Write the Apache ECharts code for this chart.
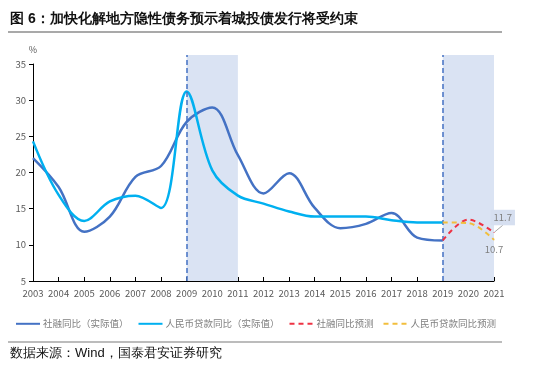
<!DOCTYPE html>
<html>
<head>
<meta charset="utf-8">
<script src="https://cdn.jsdelivr.net/npm/echarts@6/dist/echarts.min.js"></script>
<style>
  html, body { margin: 0; padding: 0; background: #fff; }
  #main { width: 550px; height: 377px; }
</style>
</head>
<body>
<div id="main"></div>
<script>
// 年份（横轴）
var years = [2003, 2004, 2005, 2006, 2007, 2008, 2009, 2010, 2011, 2012, 2013, 2014, 2015, 2016, 2017, 2018, 2019];
// 社融同比（实际值）
var sfActual = [22.0, 18.0, 11.8, 13.9, 19.4, 20.9, 27.0, 29.0, 22.4, 17.1, 19.9, 15.1, 12.3, 12.9, 14.4, 11.0, 10.6];
// 人民币贷款同比（实际值）
var loanActual = [24.3, 16.9, 13.3, 16.0, 16.8, 15.1, 31.2, 20.3, 16.8, 15.7, 14.6, 13.9, 13.9, 13.9, 13.4, 13.1, 13.1];
// 预测
var forecastYears = [2019, 2020, 2021];
var sfForecast = [10.6, 13.5, 11.7];
var loanForecast = [13.1, 13.0, 10.7];
// 阴影区间与虚线
var shadedRanges = [[2009, 2011], [2019, 2021]];
var dashedYears = [2009, 2019];

var SF_COLOR = '#4472C4';
var LOAN_COLOR = '#00B0F0';
var SF_FC_COLOR = '#EE3344';
var LOAN_FC_COLOR = '#F2BE3C';

function pairs(xs, ys) {
  return xs.map(function (x, i) { return [x, ys[i]]; });
}

function forecastData(ys, lastLabel) {
  return forecastYears.map(function (x, i) {
    if (i === forecastYears.length - 1) {
      return { value: [x, ys[i]], symbol: 'circle', symbolSize: 1, label: lastLabel };
    }
    return [x, ys[i]];
  });
}

var myChart = echarts.init(document.getElementById('main'));
myChart.setOption({
  animation: false,
  textStyle: { fontFamily: '"Noto Sans CJK SC", "Noto Sans", sans-serif' },
  graphic: [
    {
      type: 'text', left: 10, top: 12,
      style: { text: '图 6：加快化解地方隐性债务预示着城投债发行将受约束', fontSize: 14, fontWeight: 'bold', fill: '#111' }
    },
    { type: 'line', shape: { x1: 8, y1: 32, x2: 502, y2: 32 }, style: { stroke: '#8c8c8c', lineWidth: 1.5 } },
    { type: 'line', shape: { x1: 8, y1: 342, x2: 502, y2: 342 }, style: { stroke: '#a6a6a6', lineWidth: 1.5 } },
    {
      type: 'text', left: 10, top: 347,
      style: { text: '数据来源：Wind，国泰君安证券研究', fontSize: 13, fill: '#111' }
    }
  ],
  grid: [
    { left: 33, right: 56, top: 64, bottom: 96 },
    { left: 33, right: 56, top: 55, bottom: 96 }
  ],
  legend: {
    left: 15, top: 319, padding: 0,
    itemWidth: 24, itemHeight: 12, itemGap: 9,
    itemStyle: { color: 'rgba(0,0,0,0)', borderWidth: 0, opacity: 0 },
    textStyle: { color: '#7f7f7f', fontSize: 9.5, padding: [0, 0, 0, -2] },
    data: ['社融同比（实际值）', '人民币贷款同比（实际值）', '社融同比预测', '人民币贷款同比预测']
  },
  xAxis: [
    {
      type: 'value', gridIndex: 0, min: 2003, max: 2021, interval: 1,
      axisLine: { lineStyle: { color: '#000', width: 1 } },
      axisTick: { inside: true, length: 4, lineStyle: { color: '#000' } },
      axisLabel: { color: '#595959', fontSize: 9.5, margin: 8, formatter: function (v) { return String(v); } },
      splitLine: { show: false }
    },
    {
      type: 'value', gridIndex: 1, min: 2003, max: 2021, show: false,
      splitLine: { show: false }
    }
  ],
  yAxis: [
    {
      type: 'value', gridIndex: 0, min: 5, max: 35, interval: 5,
      name: '%', nameGap: 10,
      nameTextStyle: { color: '#595959', fontSize: 9, align: 'center' },
      axisLine: { show: true, lineStyle: { color: '#000', width: 1 } },
      axisTick: { show: true, length: 4, lineStyle: { color: '#000' } },
      axisLabel: { color: '#595959', fontSize: 9.5, margin: 7 },
      splitLine: { show: false }
    },
    {
      type: 'value', gridIndex: 1, min: 0, max: 1, show: false,
      splitLine: { show: false }
    }
  ],
  series: [
    {
      name: 'shade', type: 'line', xAxisIndex: 1, yAxisIndex: 1, z: 1,
      data: [], symbol: 'none', silent: true,
      markArea: {
        silent: true,
        itemStyle: { color: '#DAE3F3' },
        data: shadedRanges.map(function (r) {
          return [{ xAxis: r[0], yAxis: 0 }, { xAxis: r[1], yAxis: 1 }];
        })
      },
      markLine: {
        silent: true, symbol: 'none',
        label: { show: false },
        lineStyle: { color: SF_COLOR, width: 1.5, type: [5, 3] },
        data: dashedYears.map(function (y) { return { xAxis: y }; })
      }
    },
    {
      name: '社融同比（实际值）', type: 'line', z: 3,
      data: pairs(years, sfActual),
      smooth: 0.35, symbol: 'none',
      lineStyle: { color: SF_COLOR, width: 2.5 },
      itemStyle: { color: SF_COLOR }
    },
    {
      name: '人民币贷款同比（实际值）', type: 'line', z: 4,
      data: pairs(years, loanActual),
      smooth: 0.35, symbol: 'none',
      lineStyle: { color: LOAN_COLOR, width: 2.5 },
      itemStyle: { color: LOAN_COLOR }
    },
    {
      name: '社融同比预测', type: 'line', z: 5,
      data: forecastData(sfForecast, {
        show: true, position: 'right', distance: 2,
        formatter: '{@[1]}', color: '#7f7f7f', fontSize: 9.5,
        backgroundColor: '#D6DFF0', padding: [3, 3]
      }),
      labelLayout: { dx: -6, dy: -15 },
      labelLine: { show: true, lineStyle: { color: '#a6a6a6', width: 1 } },
      smooth: 0.35, symbol: 'none', showSymbol: true,
      lineStyle: { color: SF_FC_COLOR, width: 2, type: [5, 4] },
      itemStyle: { color: SF_FC_COLOR }
    },
    {
      name: '人民币贷款同比预测', type: 'line', z: 5,
      data: forecastData(loanForecast, {
        show: true, position: 'bottom', distance: 4,
        formatter: '{@[1]}', color: '#7f7f7f', fontSize: 9.5
      }),
      smooth: 0.35, symbol: 'none', showSymbol: true,
      lineStyle: { color: LOAN_FC_COLOR, width: 2, type: [5, 4] },
      itemStyle: { color: LOAN_FC_COLOR }
    }
  ]
});
</script>
</body>
</html>
